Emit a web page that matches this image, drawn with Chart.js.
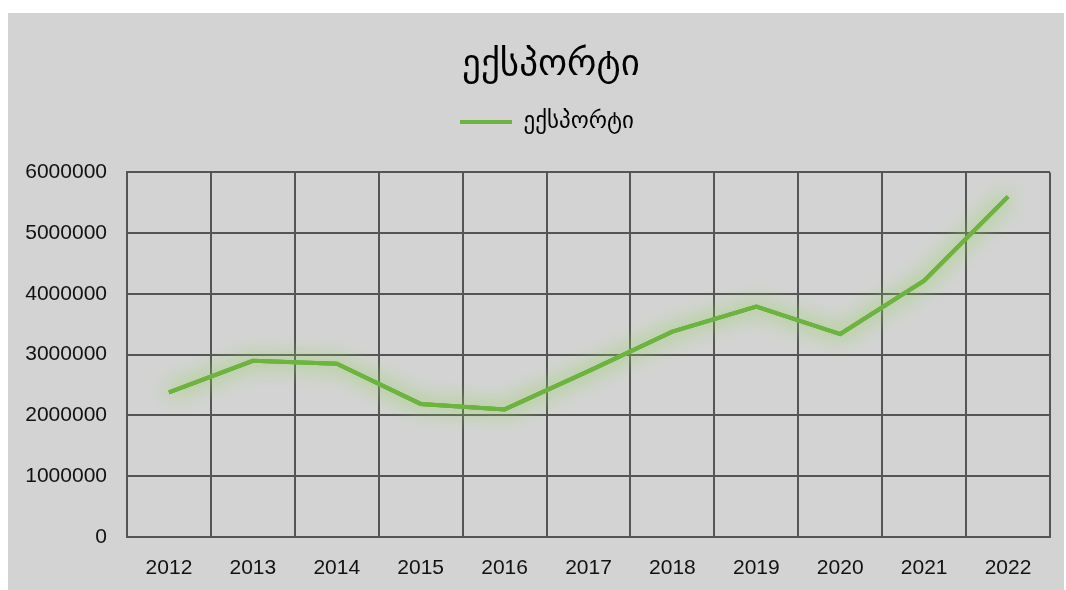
<!DOCTYPE html>
<html>
<head>
<meta charset="utf-8">
<script src="https://cdn.jsdelivr.net/npm/chart.js"></script>
<style>
  html, body { margin: 0; padding: 0; background: #ffffff; }
  #wrap { position: absolute; left: 8px; top: 13px; width: 1056px; height: 577px; background: #d3d3d3; }
</style>
</head>
<body>
<div id="wrap"><canvas id="chartExport"></canvas></div>
<script>
const years = ['2012', '2013', '2014', '2015', '2016', '2017', '2018', '2019', '2020', '2021', '2022'];
const exportValues = [2380000, 2900000, 2850000, 2190000, 2100000, 2730000, 3380000, 3790000, 3340000, 4220000, 5600000];
const seriesName = 'ექსპორტი';
const titleText = 'ექსპორტი';

const green = '#6cb33f';
const gridColor = '#555555';
const tickFont = { family: 'Liberation Sans', size: 21 };

// soft green glow under the line: draw it twice with a blurred shadow first
const glow = {
  id: 'glow',
  beforeDatasetDraw(chart, args) {
    const c = chart.ctx;
    c.save();
    c.shadowColor = 'rgba(150, 210, 100, 1)';
    c.shadowBlur = 20;
    args.meta.dataset.draw(c, chart.chartArea);
    args.meta.dataset.draw(c, chart.chartArea);
    c.restore();
  },
};

// extra room between legend and plot, title + legend sit a bit right of centre
const legendGap = {
  id: 'legendGap',
  beforeInit(chart) {
    const fit = chart.legend.fit;
    chart.legend.fit = function () {
      fit.bind(chart.legend)();
      this.height += 29;
    };
  },
  afterLayout(chart) {
    chart.titleBlock.left += 22;
    chart.titleBlock.right += 22;
    chart.legend.left += 18;
    chart.legend.right += 18;
  },
};

const ctx = document.getElementById('chartExport');
new Chart(ctx, {
  type: 'line',
  data: {
    labels: years,
    datasets: [{
      label: seriesName,
      data: exportValues,
      borderColor: green,
      backgroundColor: green,
      borderWidth: 4,
      pointRadius: 0,
      tension: 0,
    }],
  },
  options: {
    responsive: true,
    maintainAspectRatio: false,
    animation: false,
    layout: {
      padding: { top: 0, right: 14, bottom: 0, left: 0 },
    },
    plugins: {
      title: {
        display: true,
        text: titleText,
        color: '#000000',
        font: { family: 'DejaVu Sans', size: 37, weight: 'normal' },
        padding: { top: 30, bottom: 13 },
      },
      legend: {
        labels: {
          color: '#000000',
          font: { family: 'DejaVu Sans', size: 23 },
          boxWidth: 52,
          boxHeight: 4,
          generateLabels: (chart) => [{
            text: seriesName,
            fillStyle: green,
            strokeStyle: green,
            lineWidth: 0,
            datasetIndex: 0,
          }],
        },
      },
      tooltip: { enabled: false },
    },
    scales: {
      x: {
        offset: true,
        grid: { offset: true, color: gridColor, lineWidth: 2, drawTicks: false },
        border: { color: gridColor, width: 2 },
        ticks: { color: '#111111', font: tickFont, padding: 19 },
        afterFit: (scale) => { scale.height = 53; },
      },
      y: {
        min: 0,
        max: 6000000,
        grid: { color: gridColor, lineWidth: 2, drawTicks: false },
        border: { color: gridColor, width: 2 },
        ticks: {
          stepSize: 1000000,
          color: '#111111',
          font: tickFont,
          padding: 20,
          callback: (value) => String(value),
        },
        afterFit: (scale) => { scale.width = 119; },
      },
    },
  },
  plugins: [glow, legendGap],
});
</script>
</body>
</html>
